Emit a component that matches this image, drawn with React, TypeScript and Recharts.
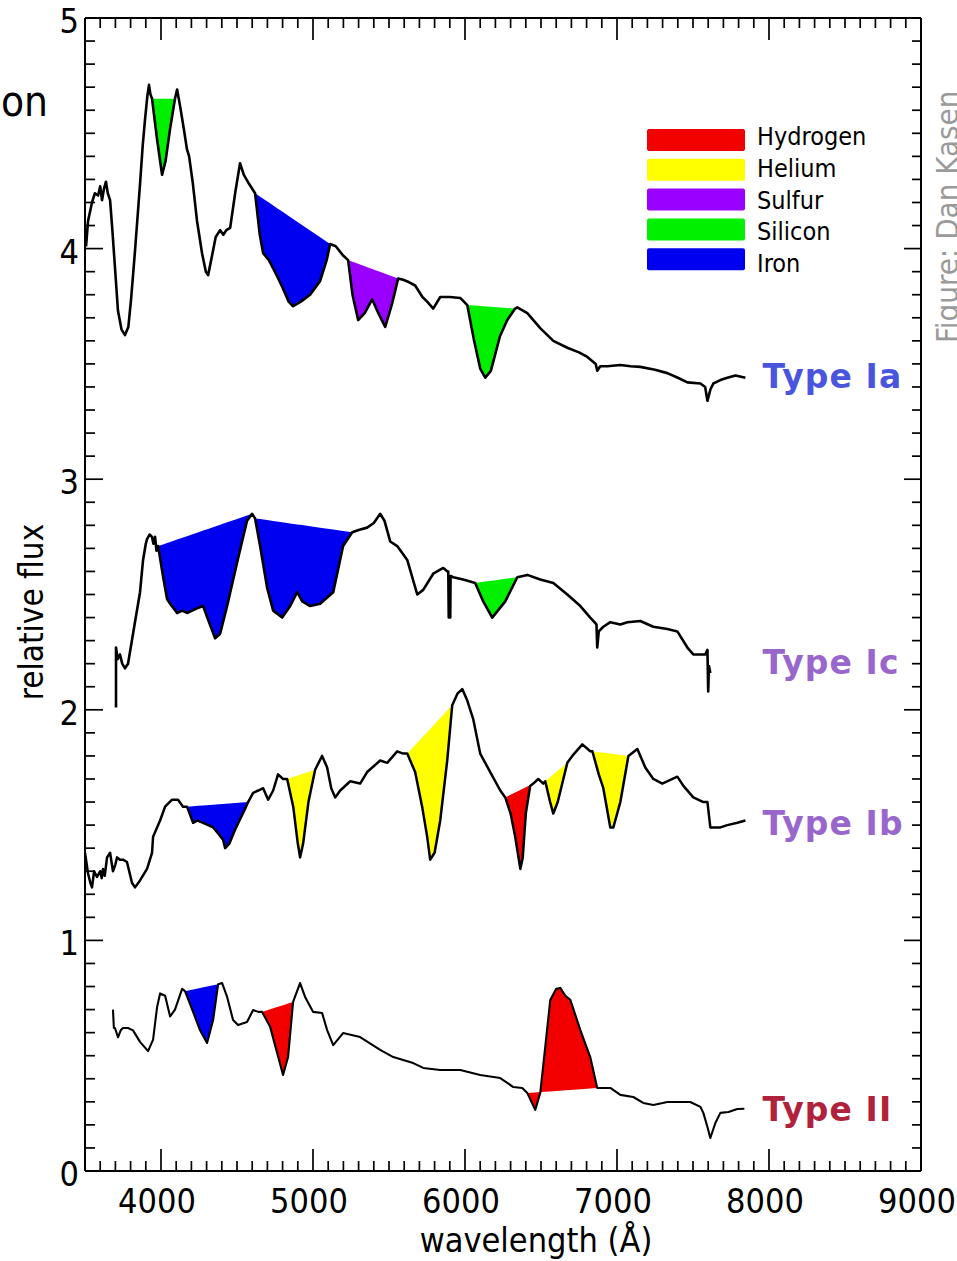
import React from 'react';
import { ComposedChart, Line, Area, XAxis, YAxis, ReferenceDot, Legend } from 'recharts';

type Pt = [number, number];

// Spectra: [wavelength (Å), relative flux] with vertical offsets already applied
const typeIa: Pt[] = [
  [3507, 4.01], [3520, 4.12], [3546, 4.2], [3565, 4.24], [3586, 4.23], [3600, 4.27], [3612, 4.21], [3625, 4.26],
  [3638, 4.29], [3650, 4.24], [3665, 4.21], [3680, 4.08], [3697, 3.92], [3717, 3.73], [3740, 3.65], [3763, 3.625],
  [3785, 3.66], [3803, 3.78], [3829, 3.99], [3862, 4.28], [3880, 4.45], [3895, 4.56], [3910, 4.66], [3921, 4.71],
  [3930, 4.67], [3941, 4.65], [3975, 4.47], [4007, 4.32], [4030, 4.38], [4060, 4.52], [4092, 4.65], [4106, 4.69],
  [4125, 4.62], [4150, 4.52], [4171, 4.43], [4185, 4.4], [4210, 4.28], [4237, 4.12], [4270, 3.98], [4295, 3.9],
  [4310, 3.885], [4330, 3.95], [4360, 4.05], [4389, 4.08], [4410, 4.06], [4430, 4.08], [4455, 4.09], [4490, 4.25],
  [4520, 4.37], [4545, 4.32], [4580, 4.28], [4619, 4.24], [4650, 4.06], [4672, 3.98], [4710, 3.95], [4764, 3.88],
  [4800, 3.83], [4840, 3.77], [4869, 3.75], [4920, 3.77], [4981, 3.8], [5047, 3.86], [5090, 3.95], [5113, 4.02],
  [5150, 4.01], [5198, 3.97], [5231, 3.95], [5260, 3.8], [5297, 3.69], [5340, 3.72], [5389, 3.78], [5430, 3.72],
  [5475, 3.66], [5520, 3.76], [5560, 3.87], [5593, 3.865], [5630, 3.855], [5672, 3.84], [5720, 3.79], [5751, 3.77],
  [5791, 3.74], [5837, 3.79], [5900, 3.79], [5969, 3.786], [6015, 3.755], [6060, 3.6], [6100, 3.48], [6133, 3.44],
  [6170, 3.47], [6230, 3.62], [6278, 3.69], [6330, 3.74], [6344, 3.745], [6410, 3.72], [6495, 3.655], [6581, 3.6],
  [6673, 3.57], [6750, 3.55], [6805, 3.53], [6860, 3.5], [6870, 3.47], [6890, 3.49], [6936, 3.49], [7022, 3.495],
  [7090, 3.49], [7153, 3.487], [7250, 3.475], [7331, 3.46], [7400, 3.44], [7463, 3.42], [7549, 3.415], [7580, 3.4],
  [7595, 3.34], [7615, 3.39], [7634, 3.415], [7680, 3.43], [7726, 3.44], [7780, 3.45], [7845, 3.44],
];

const typeIc: Pt[] = [
  [3704, 2.01], [3704, 2.27], [3715, 2.22], [3730, 2.24], [3745, 2.2], [3763, 2.18], [3783, 2.2], [3816, 2.33],
  [3862, 2.51], [3882, 2.65], [3900, 2.72], [3908, 2.74], [3925, 2.76], [3941, 2.75], [3950, 2.72], [3961, 2.75],
  [3970, 2.69], [3981, 2.71], [4013, 2.58], [4040, 2.48], [4060, 2.46], [4106, 2.42], [4140, 2.43], [4171, 2.42],
  [4237, 2.44], [4277, 2.45], [4310, 2.39], [4356, 2.31], [4389, 2.33], [4435, 2.45], [4501, 2.64], [4566, 2.82],
  [4599, 2.85], [4619, 2.83], [4652, 2.71], [4698, 2.53], [4738, 2.43], [4797, 2.4], [4850, 2.45], [4896, 2.51],
  [4929, 2.47], [4981, 2.45], [5047, 2.46], [5133, 2.51], [5198, 2.71], [5258, 2.77], [5300, 2.78], [5356, 2.79],
  [5400, 2.81], [5442, 2.85], [5470, 2.82], [5508, 2.73], [5554, 2.71], [5620, 2.65], [5686, 2.5], [5725, 2.52],
  [5791, 2.59], [5857, 2.615], [5885, 2.6], [5890, 2.6], [5893, 2.4], [5903, 2.4], [5905, 2.58], [5923, 2.575],
  [5988, 2.565], [6067, 2.55], [6120, 2.47], [6179, 2.4], [6265, 2.47], [6344, 2.575], [6410, 2.585], [6495, 2.565],
  [6581, 2.55], [6673, 2.5], [6759, 2.45], [6824, 2.4], [6865, 2.37], [6870, 2.27], [6880, 2.34], [6910, 2.36],
  [6956, 2.38], [7022, 2.37], [7068, 2.38], [7153, 2.385], [7239, 2.36], [7331, 2.35], [7397, 2.34], [7463, 2.27],
  [7502, 2.24], [7581, 2.24], [7595, 2.26], [7600, 2.08], [7605, 2.19], [7614, 2.16],
];

const typeIb: Pt[] = [
  [3500, 1.38], [3520, 1.29], [3535, 1.25], [3546, 1.23], [3560, 1.3], [3579, 1.275], [3599, 1.3], [3610, 1.27],
  [3618, 1.31], [3630, 1.28], [3645, 1.36], [3665, 1.38], [3684, 1.3], [3700, 1.33], [3711, 1.36], [3730, 1.35],
  [3750, 1.35], [3776, 1.34], [3809, 1.25], [3829, 1.23], [3862, 1.26], [3908, 1.31], [3941, 1.38], [3948, 1.45],
  [3994, 1.52], [4027, 1.58], [4073, 1.61], [4112, 1.61], [4145, 1.58], [4171, 1.58], [4211, 1.51], [4240, 1.52],
  [4277, 1.51], [4343, 1.49], [4380, 1.46], [4409, 1.435], [4422, 1.4], [4450, 1.42], [4487, 1.48], [4553, 1.57],
  [4573, 1.6], [4606, 1.64], [4640, 1.65], [4672, 1.66], [4705, 1.61], [4738, 1.65], [4770, 1.72], [4803, 1.7],
  [4830, 1.7], [4870, 1.58], [4900, 1.42], [4915, 1.36], [4935, 1.42], [4970, 1.6], [5014, 1.74], [5060, 1.8],
  [5093, 1.75], [5120, 1.66], [5146, 1.62], [5179, 1.65], [5245, 1.69], [5310, 1.68], [5356, 1.73], [5442, 1.78],
  [5488, 1.77], [5554, 1.82], [5593, 1.81], [5620, 1.81], [5672, 1.73], [5718, 1.58], [5751, 1.45], [5771, 1.35],
  [5800, 1.38], [5837, 1.52], [5883, 1.78], [5916, 2.02], [5950, 2.07], [5982, 2.09], [6015, 2.04], [6054, 1.96],
  [6100, 1.81], [6166, 1.73], [6232, 1.65], [6265, 1.62], [6300, 1.55], [6330, 1.45], [6364, 1.31], [6380, 1.36],
  [6400, 1.55], [6429, 1.67], [6449, 1.68], [6482, 1.7], [6515, 1.68], [6528, 1.69], [6560, 1.6], [6581, 1.55],
  [6610, 1.6], [6647, 1.7], [6673, 1.77], [6706, 1.8], [6772, 1.85], [6824, 1.82], [6838, 1.82], [6880, 1.72],
  [6910, 1.66], [6956, 1.49], [6976, 1.49], [7022, 1.6], [7075, 1.8], [7134, 1.83], [7186, 1.75], [7239, 1.7],
  [7298, 1.68], [7397, 1.71], [7437, 1.67], [7502, 1.62], [7568, 1.6], [7595, 1.6], [7614, 1.49], [7680, 1.49],
  [7726, 1.5], [7792, 1.51], [7845, 1.52],
];

const typeII: Pt[] = [
  [3684, 0.7], [3690, 0.62], [3697, 0.62], [3717, 0.58], [3735, 0.61], [3750, 0.62], [3783, 0.62], [3816, 0.61],
  [3862, 0.56], [3915, 0.52], [3948, 0.57], [3974, 0.71], [3994, 0.77], [4027, 0.76], [4060, 0.67], [4092, 0.7],
  [4139, 0.79], [4158, 0.78], [4211, 0.69], [4257, 0.61], [4303, 0.555], [4343, 0.655], [4376, 0.81], [4402, 0.815],
  [4435, 0.755], [4474, 0.655], [4507, 0.633], [4566, 0.646], [4606, 0.698], [4640, 0.69], [4665, 0.69],
  [4718, 0.625], [4764, 0.512], [4803, 0.416], [4836, 0.494], [4869, 0.733], [4915, 0.815], [4948, 0.755],
  [5001, 0.69], [5060, 0.685], [5093, 0.611], [5133, 0.546], [5198, 0.598], [5310, 0.581], [5442, 0.525],
  [5528, 0.494], [5659, 0.468], [5725, 0.447], [5837, 0.438], [5969, 0.438], [6100, 0.416], [6232, 0.403],
  [6318, 0.364], [6377, 0.36], [6410, 0.338], [6462, 0.265], [6495, 0.338], [6528, 0.538], [6561, 0.742],
  [6600, 0.79], [6627, 0.794], [6660, 0.76], [6693, 0.742], [6759, 0.611], [6824, 0.494], [6870, 0.36],
  [6956, 0.36], [7022, 0.33], [7107, 0.321], [7173, 0.295], [7239, 0.286], [7331, 0.299], [7482, 0.299],
  [7549, 0.278], [7568, 0.252], [7595, 0.191], [7614, 0.143], [7647, 0.208], [7680, 0.252], [7733, 0.256],
  [7792, 0.269], [7838, 0.27],
];

// Line identifications: each band spans the spectrum between two wavelengths
type Feature = { element: string; from: number; to: number };

const featuresIa: Feature[] = [
  { element: 'Silicon', from: 3941, to: 4092 },
  { element: 'Iron', from: 4619, to: 5113 },
  { element: 'Sulfur', from: 5231, to: 5560 },
  { element: 'Silicon', from: 6015, to: 6330 },
];
const featuresIc: Feature[] = [
  { element: 'Iron', from: 3981, to: 4599 },
  { element: 'Iron', from: 4619, to: 5258 },
  { element: 'Silicon', from: 6067, to: 6344 },
];
const featuresIb: Feature[] = [
  { element: 'Iron', from: 4171, to: 4573 },
  { element: 'Helium', from: 4830, to: 5014 },
  { element: 'Helium', from: 5620, to: 5916 },
  { element: 'Hydrogen', from: 6265, to: 6449 },
  { element: 'Helium', from: 6528, to: 6673 },
  { element: 'Helium', from: 6838, to: 7075 },
];
const featuresII: Feature[] = [
  { element: 'Iron', from: 4158, to: 4376 },
  { element: 'Hydrogen', from: 4665, to: 4869 },
  { element: 'Hydrogen', from: 6410, to: 6870 },
];

const legendElements = ['Hydrogen', 'Helium', 'Sulfur', 'Silicon', 'Iron'];
const elementColors: Record<string, string> = {
  Hydrogen: '#f20000',
  Helium: '#ffff00',
  Sulfur: '#9900ff',
  Silicon: '#00f000',
  Iron: '#0000f0',
};

const typeLabels = [
  { name: 'Type Ia', x: 7957, y: 3.397, color: '#4a55dd' },
  { name: 'Type Ic', x: 7957, y: 2.157, color: '#9966cc' },
  { name: 'Type Ib', x: 7957, y: 1.457, color: '#9966cc' },
  { name: 'Type II', x: 7957, y: 0.217, color: '#b0223c' },
];

const xMajorTicks = [4000, 5000, 6000, 7000, 8000, 9000];
const xMinorStep = 100;
const yMajorTicks = [0, 1, 2, 3, 4, 5];
const yMinorStep = 0.1;

const X_DOMAIN: [number, number] = [3500, 9000];
const Y_DOMAIN: [number, number] = [0, 5];

const xTicks: number[] = [];
for (let v = X_DOMAIN[0]; v <= X_DOMAIN[1]; v += xMinorStep) xTicks.push(v);
const yTicks: number[] = [];
for (let i = 0; i <= Math.round((Y_DOMAIN[1] - Y_DOMAIN[0]) / yMinorStep); i++) yTicks.push(+(i * yMinorStep).toFixed(1));

const toRows = (spec: Pt[]) => spec.map(([x, flux]) => ({ x, flux }));

// Fill between the spectrum and the straight chord joining the band's end points
function bandRows(spec: Pt[], f: Feature) {
  const a = spec.find((p) => p[0] === f.from)!;
  const b = spec.find((p) => p[0] === f.to)!;
  return spec
    .filter((p) => p[0] >= f.from && p[0] <= f.to)
    .map(([x, flux]) => ({
      x,
      band: [flux, a[1] + ((b[1] - a[1]) * (x - f.from)) / (f.to - f.from)],
    }));
}

const spectra = [
  { id: 'Ia', data: typeIa, features: featuresIa, width: 2.6 },
  { id: 'Ic', data: typeIc, features: featuresIc, width: 2.6 },
  { id: 'Ib', data: typeIb, features: featuresIb, width: 2.5 },
  { id: 'II', data: typeII, features: featuresII, width: 2.1 },
];

const FONT = "'DejaVu Sans Condensed', 'DejaVu Sans', sans-serif";
const isMajorX = (v: number) => xMajorTicks.includes(v);
const isMajorY = (v: number) => yMajorTicks.some((m) => Math.abs(m - v) < 1e-6);

const BottomTick = (props: any) => {
  const { x, y, payload } = props;
  const v = payload.value as number;
  const major = isMajorX(v);
  return (
    <g>
      <line x1={x} x2={x} y1={y} y2={y - (major ? 22 : 10)} stroke="#000" strokeWidth={1.7} />
      {major && (
        <text x={x - 4} y={y + 42} textAnchor="middle" fontFamily={FONT} fontStretch="condensed" fontSize={34} fill="#000">
          {v}
        </text>
      )}
    </g>
  );
};

const TopTick = (props: any) => {
  const { x, y, payload } = props;
  const major = isMajorX(payload.value);
  return <line x1={x} x2={x} y1={y} y2={y + (major ? 22 : 10)} stroke="#000" strokeWidth={1.7} />;
};

const LeftTick = (props: any) => {
  const { x, y, payload } = props;
  const v = payload.value as number;
  const major = isMajorY(v);
  return (
    <g>
      <line x1={x} x2={x + (major ? 18 : 10)} y1={y} y2={y} stroke="#000" strokeWidth={1.7} />
      {major && (
        <text x={x - 6} y={y + 15} textAnchor="end" fontFamily={FONT} fontStretch="condensed" fontSize={34} fill="#000">
          {Math.round(v)}
        </text>
      )}
    </g>
  );
};

const RightTick = (props: any) => {
  const { x, y, payload } = props;
  const major = isMajorY(payload.value);
  return <line x1={x} x2={x - (major ? 17 : 9)} y1={y} y2={y} stroke="#000" strokeWidth={1.7} />;
};

const LegendBox = () => (
  <svg width={270} height={160} style={{ display: 'block', overflow: 'visible' }}>
    {legendElements.map((name, i) => (
      <g key={name}>
        <rect x={0} y={i * 29.8} width={98} height={22} rx={2} fill={elementColors[name]} />
        <text x={110} y={16 + i * 31.8} fontFamily={FONT} fontStretch="condensed" fontSize={25} fill="#000">
          {name}
        </text>
      </g>
    ))}
  </svg>
);

const axisLine = { stroke: '#000', strokeWidth: 2 };

export default function App() {
  return (
    <div style={{ position: 'relative', width: 957, height: 1261 }}>
      <style>{'body { margin: 0; }'}</style>
      <ComposedChart width={957} height={1261} margin={{ top: 0, right: 0, bottom: 0, left: 0 }}>
        <XAxis
          dataKey="x"
          type="number"
          domain={X_DOMAIN}
          allowDataOverflow
          ticks={xTicks}
          interval={0}
          tickSize={0}
          tickMargin={0}
          tickLine={false}
          tick={<BottomTick />}
          axisLine={axisLine}
          height={90}
          label={(p: any) => (
            <text
              x={p.viewBox.x + 451}
              y={p.viewBox.y + 81}
              textAnchor="middle"
              fontFamily={FONT}
              fontStretch="condensed"
              fontSize={34}
              fill="#000"
            >
              wavelength (Å)
            </text>
          )}
        />
        <XAxis
          xAxisId="top"
          orientation="top"
          dataKey="x"
          type="number"
          domain={X_DOMAIN}
          allowDataOverflow
          ticks={xTicks}
          interval={0}
          tickSize={0}
          tickMargin={0}
          tickLine={false}
          tick={<TopTick />}
          axisLine={axisLine}
          height={18}
        />
        <YAxis
          type="number"
          domain={Y_DOMAIN}
          allowDataOverflow
          ticks={yTicks}
          interval={0}
          tickSize={0}
          tickMargin={0}
          tickLine={false}
          tick={<LeftTick />}
          axisLine={axisLine}
          width={85}
          label={(p: any) => (
            <text
              x={p.viewBox.x + 43}
              y={p.viewBox.y + 594}
              transform={`rotate(-90, ${p.viewBox.x + 43}, ${p.viewBox.y + 594})`}
              textAnchor="middle"
              fontFamily={FONT}
              fontStretch="condensed"
              fontSize={33}
              fill="#000"
            >
              relative flux
            </text>
          )}
        />
        <YAxis
          yAxisId="right"
          orientation="right"
          type="number"
          domain={Y_DOMAIN}
          allowDataOverflow
          ticks={yTicks}
          interval={0}
          tickSize={0}
          tickMargin={0}
          tickLine={false}
          tick={<RightTick />}
          axisLine={axisLine}
          width={36}
        />

        {spectra.flatMap((s) =>
          s.features.map((f, i) => (
            <Area
              key={`${s.id}-band-${i}`}
              data={bandRows(s.data, f)}
              dataKey="band"
              type="linear"
              stroke="none"
              fill={elementColors[f.element]}
              fillOpacity={1}
              isAnimationActive={false}
            />
          ))
        )}

        {spectra.map((s) => (
          <Line
            key={s.id}
            data={toRows(s.data)}
            dataKey="flux"
            type="linear"
            dot={false}
            activeDot={false}
            stroke="#000"
            strokeWidth={s.width}
            strokeLinejoin="round"
            isAnimationActive={false}
          />
        ))}

        {typeLabels.map((l) => (
          <ReferenceDot
            key={l.name}
            x={l.x}
            y={l.y}
            r={0}
            ifOverflow="visible"
            shape={(p: any) => (
              <text
                x={p.cx}
                y={p.cy}
                fontFamily="'DejaVu Sans', sans-serif"
                fontWeight="bold"
                fontSize={33}
                letterSpacing={1.1}
                fill={l.color}
              >
                {l.name}
              </text>
            )}
          />
        ))}

        <Legend
          layout="vertical"
          align="center"
          verticalAlign="middle"
          wrapperStyle={{ left: 647, top: 129, width: 270, height: 160 }}
          content={() => <LegendBox />}
        />
      </ComposedChart>

      <svg
        width={957}
        height={1261}
        style={{ position: 'absolute', left: 0, top: 0, pointerEvents: 'none' }}
      >
        <text x={1} y={116} fontFamily={FONT} fontStretch="condensed" fontSize={42} fill="#000">
          on
        </text>
        <text
          x={958}
          y={343}
          transform="rotate(-90, 958, 343)"
          fontFamily={FONT}
          fontStretch="condensed"
          fontSize={31}
          fill="#9a9a9a"
        >
          Figure: Dan Kasen
        </text>
      </svg>
    </div>
  );
}
